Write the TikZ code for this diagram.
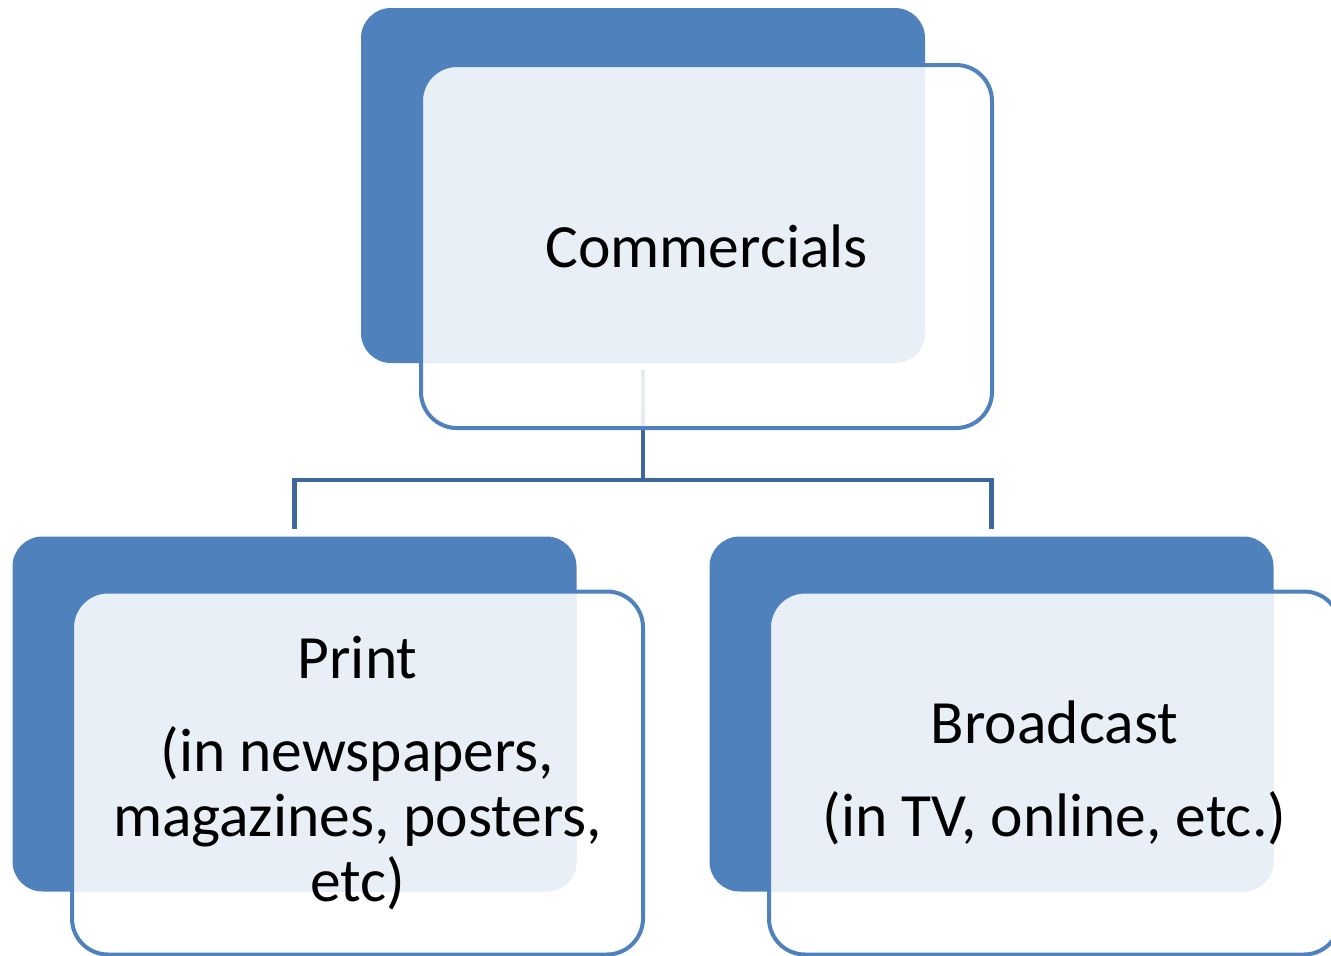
\documentclass[tikz,border=0pt]{standalone}
\usepackage{fontspec}
\setmainfont{Carlito}
\usetikzlibrary{calc}
\definecolor{dkblue}{HTML}{4F81BD}
\definecolor{conblue}{HTML}{3D689B}
\definecolor{lightfill}{HTML}{E9EFF7}
\begin{document}
\begin{tikzpicture}[x=1pt,y=-1pt,
 backbox/.style={fill=dkblue, draw=none, rounded corners=30pt, minimum width=564pt, minimum height=355pt, inner sep=0pt, outer sep=0pt},
 frontbox/.style={draw=dkblue, line width=4pt, fill=white, fill opacity=0.88, rounded corners=36pt, minimum width=571pt, minimum height=363pt, inner sep=0pt, outer sep=0pt},
 conn/.style={draw=conblue, line width=4.5pt},
 lightbox/.style={fill=lightfill, rounded corners=33pt},
 label/.style={font=\fontsize{61.5}{65}\selectfont, align=center, text=black, inner sep=0pt}
]
\useasboundingbox (0,0) rectangle (1331,956);
\clip (0,0) rectangle (1331,956);
% back boxes
\node[backbox] (bT) at (643,185.5) {};
\node[backbox] (bL) at (294.5,714) {};
\node[backbox] (bR) at (991.5,714) {};
% connectors
\coordinate (j) at (643,480);
\draw[conn, shorten <=7pt, shorten >=8pt] (bT.south) -- (j) -| (bL.north);
\draw[conn, shorten >=8pt] (j) -| (bR.north);
% front boxes
\node[frontbox] (fT) at (706.5,246.5) {};
\node[frontbox] (fL) at (357.5,773) {};
\node[frontbox] (fR) at (1054.5,773) {};
% light overlays where front and back boxes overlap
\foreach \b/\f in {bT/fT,bL/fL,bR/fR}{
  \begin{scope}
    \clip[rounded corners=30pt] (\b.north west) rectangle (\b.south east);
    \fill[lightbox] ($(\f.north west)+(3,3)$) rectangle ($(\f.south east)+(-3,-3)$);
  \end{scope}
}
% texts
\node[label] (tT) at (fT.center) {Commercials};
\node[label] (tL) at (fL.center) {Print\\[28pt](in newspapers,\\magazines, posters,\\etc)};
\node[label] (tR) at (fR.center) {Broadcast\\[28pt](in TV, online, etc.)};
\end{tikzpicture}
\end{document}
